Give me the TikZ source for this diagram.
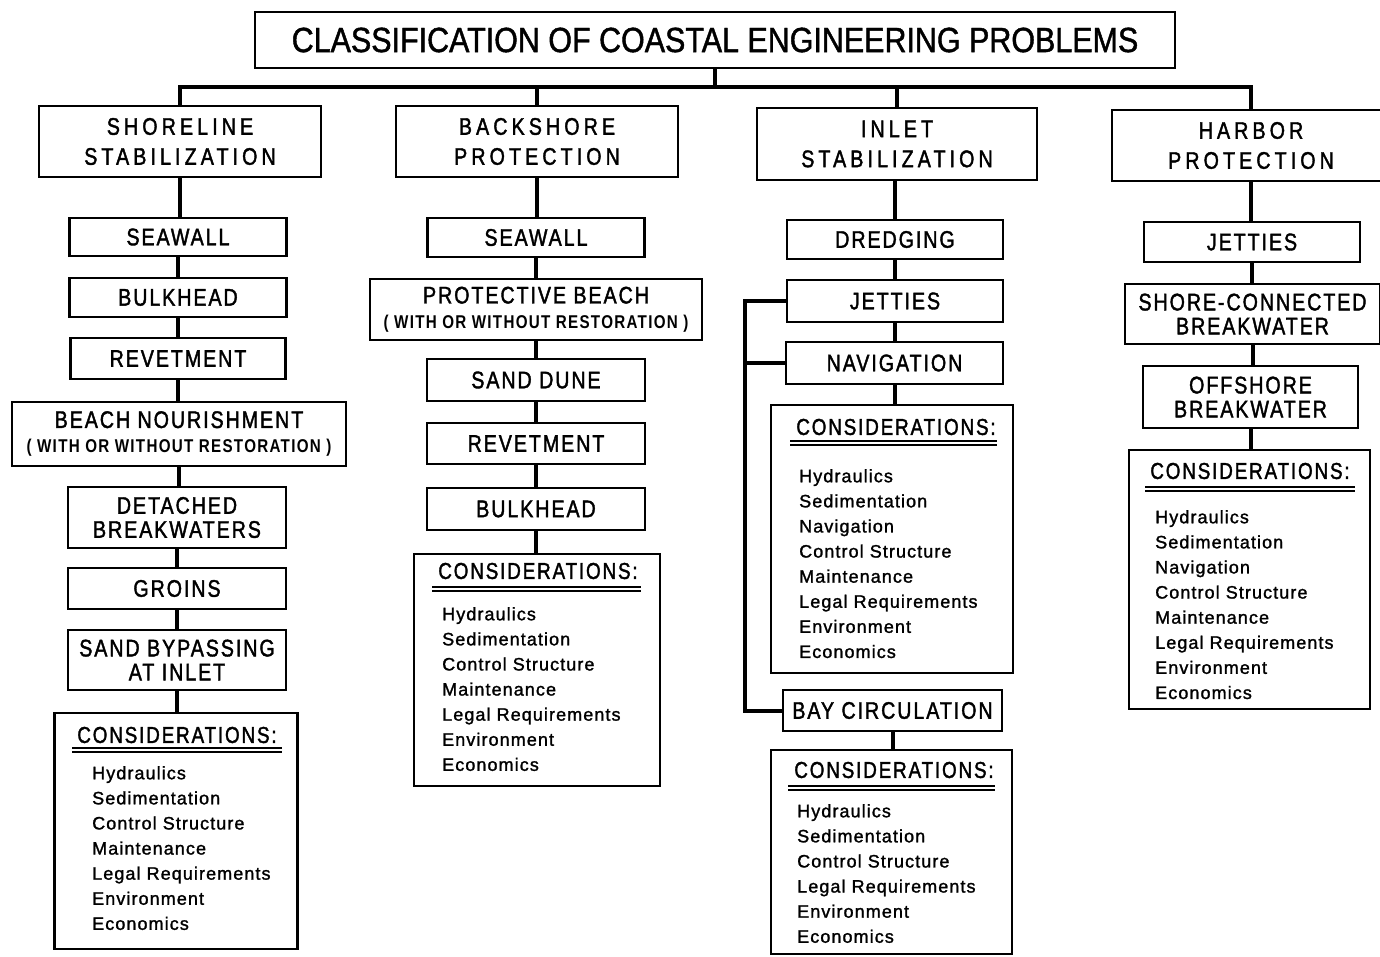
\documentclass[tikz,border=0pt]{standalone}
\usepackage{fontspec}
\newfontfamily\titlefont[FakeStretch=0.87,FakeBold=1.2]{Liberation Sans}
\newfontfamily\topfont[FakeStretch=0.82,LetterSpace=17,FakeBold=1.6]{Liberation Sans}
\newfontfamily\labfont[FakeStretch=0.82,LetterSpace=8,FakeBold=1.6]{Liberation Sans}
\newfontfamily\parenfont[FakeStretch=0.82,LetterSpace=7]{Liberation Sans Bold}
\newfontfamily\itemfont[LetterSpace=6,FakeBold=1.4]{Liberation Sans}
\begin{document}
\begin{tikzpicture}[x=1pt,y=-1pt,
  box/.style={draw, line width=2.4pt, inner sep=0pt, align=center,
    font=\labfont\fontsize{24}{24}\selectfont},
  topbox/.style={box, font=\topfont\fontsize{24}{30}\selectfont},
  beachbox/.style={box, font=\labfont\fontsize{24}{25}\selectfont},
  titlebox/.style={draw, line width=2.4pt, inner sep=0pt,
    font=\titlefont\fontsize{35}{35}\selectfont},
  cbox/.style={draw, line width=2.4pt, inner sep=0pt},
  chead/.style={inner sep=0pt, font=\labfont\fontsize{23}{23}\selectfont},
  items/.style={anchor=north west, inner sep=0pt, align=left,
    font=\itemfont\fontsize{18}{25.1}\selectfont},
  conn/.style={line width=4pt},
  uline/.style={line width=1.6pt}]
\useasboundingbox (0,0) rectangle (1380,956);
\clip (0,0) rectangle (1380,956);

% title
\node[titlebox, minimum width=920, minimum height=56] (title) at (715,40)
  {CLASSIFICATION OF COASTAL ENGINEERING PROBLEMS};
\coordinate (bus) at (0,87);
\coordinate (side) at (745,0);

% column 1: shoreline stabilization
\node[topbox, minimum width=282, minimum height=71] (s0) at (180,141.5) {SHORELINE\\STABILIZATION};
\node[box, minimum width=217, minimum height=38] (s1) at (178,237) {SEAWALL};
\node[box, minimum width=217, minimum height=39] (s2) at (178,297.5) {BULKHEAD};
\node[box, minimum width=215, minimum height=41] (s3) at (178,358.5) {REVETMENT};
\node[beachbox, minimum width=334, minimum height=64] (s4) at (179,434)
  {BEACH NOURISHMENT\\{\parenfont\fontsize{18.5}{25}\selectfont ( WITH OR WITHOUT RESTORATION )}};
\node[box, minimum width=218, minimum height=61] (s5) at (177,517.5) {DETACHED\\BREAKWATERS};
\node[box, minimum width=218, minimum height=41] (s6) at (177,588.5) {GROINS};
\node[box, minimum width=218, minimum height=60] (s7) at (177,660) {SAND BYPASSING\\AT INLET};
\node[cbox, minimum width=243, minimum height=236] (s8) at (176,831) {};
\node[chead] (s8h) at (177,735) {CONSIDERATIONS:};
\draw[uline] (72,748) -- (282,748);
\draw[uline] (72,752) -- (282,752);
\node[items] (s8l) at (92,766) {Hydraulics\\Sedimentation\\Control Structure\\Maintenance\\Legal Requirements\\Environment\\Economics};

% column 2: backshore protection
\node[topbox, minimum width=282, minimum height=71] (b0) at (537,141.5) {BACKSHORE\\PROTECTION};
\node[box, minimum width=217, minimum height=39] (b1) at (536,237.5) {SEAWALL};
\node[beachbox, minimum width=332, minimum height=61] (b2) at (536,309.5)
  {PROTECTIVE BEACH\\{\parenfont\fontsize{18.5}{25}\selectfont ( WITH OR WITHOUT RESTORATION )}};
\node[box, minimum width=218, minimum height=42] (b3) at (536,380) {SAND DUNE};
\node[box, minimum width=218, minimum height=41] (b4) at (536,443.5) {REVETMENT};
\node[box, minimum width=218, minimum height=42] (b5) at (536,509) {BULKHEAD};
\node[cbox, minimum width=246, minimum height=232] (b6) at (537,670) {};
\node[chead] (b6h) at (538,571) {CONSIDERATIONS:};
\draw[uline] (432,587) -- (641,587);
\draw[uline] (432,591) -- (641,591);
\node[items] (b6l) at (442,607) {Hydraulics\\Sedimentation\\Control Structure\\Maintenance\\Legal Requirements\\Environment\\Economics};

% column 3: inlet stabilization
\node[topbox, minimum width=280, minimum height=72] (i0) at (897,144) {INLET\\STABILIZATION};
\node[box, minimum width=216, minimum height=39] (i1) at (895,239.5) {DREDGING};
\node[box, minimum width=216, minimum height=42] (i2) at (895,301) {JETTIES};
\node[box, minimum width=217, minimum height=42] (i3) at (894.5,363) {NAVIGATION};
\node[cbox, minimum width=242, minimum height=268] (i4) at (892,539) {};
\node[chead] (i4h) at (896,427) {CONSIDERATIONS:};
\draw[uline] (790,441) -- (997,441);
\draw[uline] (790,445) -- (997,445);
\node[items] (i4l) at (799,469) {Hydraulics\\Sedimentation\\Navigation\\Control Structure\\Maintenance\\Legal Requirements\\Environment\\Economics};
\node[box, minimum width=219, minimum height=41] (i5) at (892.5,710.5) {BAY CIRCULATION};
\node[cbox, minimum width=241, minimum height=204] (i6) at (891.5,852) {};
\node[chead] (i6h) at (894,770) {CONSIDERATIONS:};
\draw[uline] (788,786) -- (995,786);
\draw[uline] (788,790) -- (995,790);
\node[items] (i6l) at (797,804) {Hydraulics\\Sedimentation\\Control Structure\\Legal Requirements\\Environment\\Economics};

% column 4: harbor protection
\node[topbox, minimum width=278, minimum height=71] (h0) at (1251,145.5) {HARBOR\\PROTECTION};
\node[box, minimum width=216, minimum height=40] (h1) at (1252,242) {JETTIES};
\node[box, minimum width=255, minimum height=60] (h2) at (1252.5,314) {SHORE-CONNECTED\\BREAKWATER};
\node[box, minimum width=215, minimum height=62] (h3) at (1250.5,397) {OFFSHORE\\BREAKWATER};
\node[cbox, minimum width=241, minimum height=259] (h4) at (1249.5,579.5) {};
\node[chead] (h4h) at (1250,471) {CONSIDERATIONS:};
\draw[uline] (1145,487) -- (1355,487);
\draw[uline] (1145,491) -- (1355,491);
\node[items] (h4l) at (1155,510) {Hydraulics\\Sedimentation\\Navigation\\Control Structure\\Maintenance\\Legal Requirements\\Environment\\Economics};

% connectors
\draw[conn] (title.south) -- (title.south |- bus);
\draw[conn] (s0.north) |- (h0.north |- bus) -- (h0.north);
\draw[conn] (b0.north) -- (b0.north |- bus);
\draw[conn] (i0.north) -- (i0.north |- bus);
\foreach \a/\b in {s0/s1,s1/s2,s2/s3,s3/s4,s4/s5,s5/s6,s6/s7,s7/s8,
                   b0/b1,b1/b2,b2/b3,b3/b4,b4/b5,b5/b6,
                   i1/i2,i2/i3,i3/i4,i5/i6,
                   h0/h1,h1/h2,h2/h3,h3/h4}
  \draw[conn] (\a.south) -- (\a.south |- \b.north);
\draw[conn] (i1.north) -- (i1.north |- i0.south);
\draw[conn] (i2.west) -- (i2.west -| side) |- (i5.west);
\draw[conn] (i3.west) -- (i3.west -| side);
\end{tikzpicture}
\end{document}
